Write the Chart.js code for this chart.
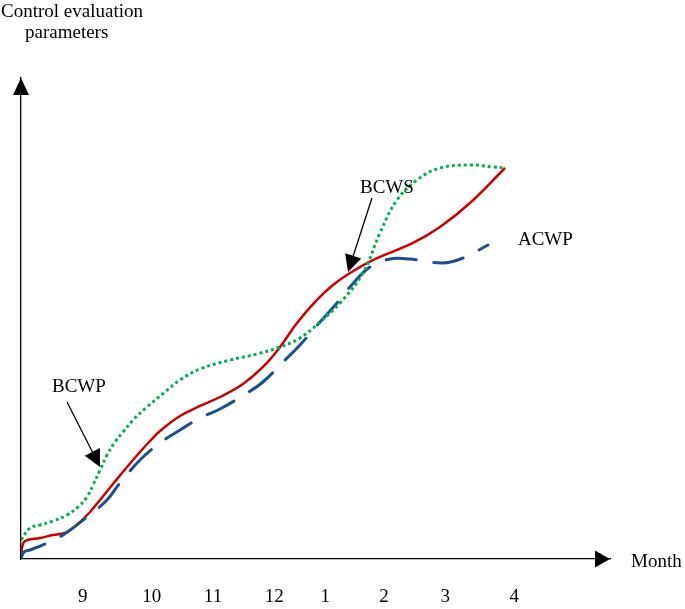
<!DOCTYPE html>
<html><head><meta charset="utf-8">
<script src="https://cdn.jsdelivr.net/npm/chart.js@4/dist/chart.umd.min.js"></script>
<style>html,body{margin:0;padding:0;background:#fff}</style>
</head><body>
<canvas id="c" width="685" height="609"></canvas>
<script>
// Month tick labels and their positions on the (continuous) time axis
const monthLabels = ['9','10','11','12','1','2','3','4'];
const monthPositions = [1.03, 2.18, 3.2, 4.22, 5.07, 6.05, 7.07, 8.22];

// BCWS (red solid)
const bcwsX = [0, 0.017, 0.067, 0.317, 0.533, 0.767, 0.983, 1.15, 1.317, 1.533, 1.767, 1.983, 2.15, 2.317, 2.65, 2.983, 3.317, 3.70, 4.033, 4.317, 4.60, 4.933, 5.20, 5.483, 5.867, 6.533, 6.983, 7.483, 8.067];
const bcwsY = [0, 2.29, 3.74, 4.37, 4.99, 5.61, 7.69, 9.77, 12.27, 15.59, 19.13, 22.25, 24.53, 26.61, 29.73, 31.81, 33.68, 36.38, 39.92, 44.07, 49.06, 53.85, 56.96, 59.46, 62.16, 65.70, 69.02, 74.01, 81.29];

// BCWP (green dotted)
const bcwpX = [0, 0.15, 0.317, 0.533, 0.767, 0.95, 1.10, 1.20, 1.317, 1.433, 1.567, 1.70, 1.867, 2.10, 2.40, 2.65, 2.983, 3.483, 3.933, 4.317, 4.65, 4.983, 5.317, 5.70, 5.983, 6.267, 6.60, 6.983, 7.483, 7.867, 8.067];
const bcwpY = [3.95, 6.44, 7.07, 7.90, 9.15, 10.81, 12.89, 15.38, 18.50, 21.62, 24.32, 26.40, 28.90, 31.60, 34.72, 37.21, 39.50, 41.37, 42.62, 44.07, 45.95, 49.27, 53.22, 59.46, 67.78, 74.64, 78.79, 81.29, 81.91, 81.50, 81.29];

// ACWP (blue dashed)
const acwpX = [0, 0.05, 0.15, 0.40, 0.70, 1.10, 1.433, 1.65, 1.983, 2.317, 2.65, 2.983, 3.317, 3.767, 4.033, 4.367, 4.65, 4.983, 5.267, 5.483, 5.817, 6.15, 6.483, 7.033, 7.367, 7.783];
const acwpY = [0, 1.46, 1.87, 3.12, 4.99, 8.73, 12.27, 15.80, 20.58, 24.12, 26.82, 29.31, 31.19, 34.51, 36.80, 40.96, 44.49, 49.27, 53.22, 56.55, 60.71, 62.37, 62.37, 61.54, 62.58, 65.28];

const toPts = (xs, ys) => xs.map((x, i) => ({x: x, y: ys[i]}));

// Annotation labels (data coordinates)
const labelTexts = ['BCWS', 'BCWP', 'ACWP'];
const labelX = [5.65, 0.517, 8.283];
const labelY = [76.09, 34.72, 65.28];
// Annotation arrows: tail -> tip (data coordinates)
const arrowFromX = [5.85, 0.767];
const arrowFromY = [75.05, 32.64];
const arrowToX = [5.45, 1.317];
const arrowToY = [59.67, 19.13];

const FONT = '19px "Liberation Serif", "Times New Roman", serif';

function tri(ctx, tx, ty, ux, uy, len, half) {
  const bx = tx - ux * len, by = ty - uy * len;
  const px = -uy, py = ux;
  ctx.beginPath();
  ctx.moveTo(tx, ty);
  ctx.lineTo(bx + px * half, by + py * half);
  ctx.lineTo(bx - px * half, by - py * half);
  ctx.closePath();
  ctx.fill();
}

const decor = {
  id: 'decor',
  afterDraw(chart) {
    const ctx = chart.ctx, a = chart.chartArea;
    const xs = chart.scales.x, ys = chart.scales.y;
    ctx.save();
    ctx.fillStyle = '#000';
    ctx.strokeStyle = '#000';
    tri(ctx, a.left, a.top, 0, -1, 17, 8);
    tri(ctx, a.right, a.bottom, 1, 0, 15, 8.5);
    ctx.font = FONT;
    ctx.textBaseline = 'alphabetic';
    ctx.textAlign = 'left';
    ctx.fillText('Control evaluation', 1, 17);
    ctx.fillText('parameters', 25, 38);
    ctx.fillText('Month', a.right + 21, a.bottom + 8);
    labelTexts.forEach((t, i) => {
      ctx.fillText(t, xs.getPixelForValue(labelX[i]), ys.getPixelForValue(labelY[i]));
    });
    ctx.lineWidth = 1.3;
    arrowFromX.forEach((fx, i) => {
      const x0 = xs.getPixelForValue(fx), y0 = ys.getPixelForValue(arrowFromY[i]);
      const x1 = xs.getPixelForValue(arrowToX[i]), y1 = ys.getPixelForValue(arrowToY[i]);
      const d = Math.hypot(x1 - x0, y1 - y0), ux = (x1 - x0) / d, uy = (y1 - y0) / d;
      ctx.beginPath();
      ctx.moveTo(x0, y0);
      ctx.lineTo(x1 - ux * 10, y1 - uy * 10);
      ctx.stroke();
      tri(ctx, x1, y1, ux, uy, 17, 8.5);
    });
    ctx.restore();
  }
};

new Chart(document.getElementById('c'), {
  type: 'line',
  data: {
    datasets: [
      {label: 'BCWP', data: toPts(bcwpX, bcwpY), borderColor: '#00b050', borderWidth: 3, borderDash: [3, 3], borderCapStyle: 'butt', pointRadius: 0, tension: 0.4, fill: false},
      {label: 'ACWP', data: toPts(acwpX, acwpY), borderColor: '#1f4e8c', borderWidth: 3, borderDash: [30, 18], borderCapStyle: 'round', pointRadius: 0, tension: 0.4, fill: false},
      {label: 'BCWS', data: toPts(bcwsX, bcwsY), borderColor: '#cc0000', borderWidth: 2.5, pointRadius: 0, tension: 0.4, fill: false}
    ]
  },
  options: {
    responsive: false,
    animation: false,
    layout: {padding: {left: 21, right: 75, top: 78, bottom: 0}},
    plugins: {legend: {display: false}, tooltip: {enabled: false}},
    scales: {
      x: {
        type: 'linear', min: 0, max: 9.817,
        grid: {display: false, drawTicks: false},
        border: {display: true, color: '#000', width: 1.3},
        afterBuildTicks: (s) => { s.ticks = monthPositions.map(v => ({value: v})); },
        afterFit: (s) => { s.height = 50; },
        ticks: {
          autoSkip: false, maxRotation: 0, padding: 27, color: '#000',
          font: {family: '"Liberation Serif", "Times New Roman", serif', size: 19},
          callback: (v, i) => monthLabels[i]
        }
      },
      y: {
        type: 'linear', min: 0, max: 100,
        grid: {display: false, drawTicks: false},
        border: {display: true, color: '#000', width: 1.3},
        ticks: {display: false},
        afterFit: (s) => { s.width = 0; }
      }
    }
  },
  plugins: [decor]
});
</script>
</body></html>
